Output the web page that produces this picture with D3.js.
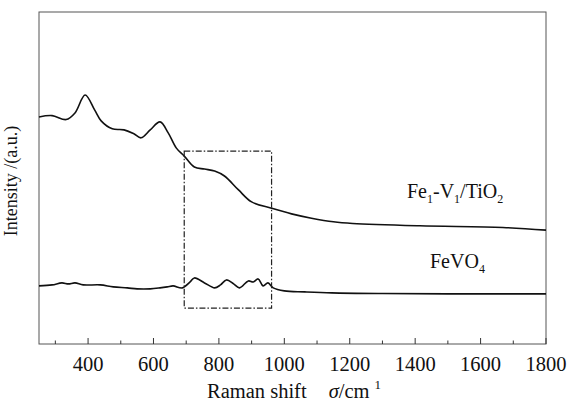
<!DOCTYPE html>
<html>
<head>
<meta charset="utf-8">
<script src="https://cdn.jsdelivr.net/npm/d3@7"></script>
<style>
  html, body { margin: 0; padding: 0; background: #fff; }
  svg { display: block; }
  text { font-family: "Liberation Serif", "DejaVu Serif", serif; fill: #111; }
</style>
</head>
<body>
<svg id="chart" width="568" height="403"></svg>
<script>
// ---- data (Raman shift in cm^-1, intensity in arbitrary units) ----
const shiftTiO2 = [250, 290, 333, 360, 391, 420, 440, 474, 510, 540, 562, 590, 620, 645, 670, 694, 725, 756, 787, 817, 860, 900, 961, 1022, 1083, 1150, 1209, 1414, 1668, 1800];
const intensityTiO2 = [68.4, 68.8, 67.6, 69.6, 75.0, 70.5, 67.2, 64.8, 64.5, 63.3, 62.1, 64.5, 66.9, 63.6, 59.0, 56.6, 53.3, 52.7, 52.1, 50.6, 46.4, 42.8, 40.9, 39.2, 37.9, 36.8, 36.3, 35.6, 35.1, 34.3];
const shiftFeVO4 = [250, 290, 320, 340, 360, 385, 437, 477, 520, 550, 590, 620, 642, 660, 688, 712, 725, 756, 787, 805, 823, 845, 863, 890, 905, 920, 935, 950, 966, 1000, 1062, 1145, 1300, 1500, 1800];
const intensityFeVO4 = [17.5, 17.8, 18.4, 18.1, 18.4, 17.8, 17.8, 17.2, 16.9, 16.6, 16.6, 16.9, 17.2, 17.5, 16.9, 18.7, 19.9, 18.4, 16.9, 17.8, 19.3, 18.1, 16.9, 19.0, 18.7, 19.6, 17.5, 18.4, 16.9, 16.0, 15.7, 15.4, 15.2, 15.1, 15.1];
const seriesNames = ["Fe1-V1/TiO2", "FeVO4"];
const xTicks = [400, 600, 800, 1000, 1200, 1400, 1600, 1800];
const xMinorTicks = [300, 500, 700, 900, 1100, 1300, 1500, 1700];
const boxRange = [694, 961];
const boxIntensity = [10.8, 58.1];

// ---- layout ----
const svg = d3.select("#chart");
const L = 39, R = 546, T = 12, B = 344;
const x = d3.scaleLinear().domain([250, 1800]).range([L, R]);
const y = d3.scaleLinear().domain([0, 100]).range([B, T]);

// frame
svg.append("rect").attr("x", L).attr("y", T).attr("width", R - L).attr("height", B - T)
  .attr("fill", "none").attr("stroke", "#555").attr("stroke-width", 1);

// bottom axis with inward ticks
const ax = svg.append("g").attr("transform", `translate(0,${B})`);
ax.selectAll("line.major").data(xTicks).join("line").attr("class", "major")
  .attr("x1", d => x(d)).attr("x2", d => x(d)).attr("y1", 0).attr("y2", -6)
  .attr("stroke", "#333").attr("stroke-width", 1);
ax.selectAll("line.minor").data(xMinorTicks).join("line").attr("class", "minor")
  .attr("x1", d => x(d)).attr("x2", d => x(d)).attr("y1", 0).attr("y2", -3.5)
  .attr("stroke", "#333").attr("stroke-width", 1);
ax.selectAll("text").data(xTicks).join("text")
  .attr("x", d => x(d)).attr("y", 27).attr("text-anchor", "middle")
  .attr("font-size", 20.5).text(d => d);

// axis titles
const xt = svg.append("text").attr("x", 207).attr("y", 398).attr("font-size", 20.5);
xt.append("tspan").text("Raman shift");
xt.append("tspan").attr("dx", 22).attr("font-style", "italic").text("σ");
xt.append("tspan").text("/cm");
xt.append("tspan").attr("dx", 5).attr("dy", -9).attr("font-size", 13).text("1");

svg.append("text").attr("transform", "translate(17,181) rotate(-90)")
  .attr("text-anchor", "middle").attr("font-size", 18).text("Intensity /(a.u.)");

// lines
const line = d3.line().x(d => x(d[0])).y(d => y(d[1])).curve(d3.curveCatmullRom.alpha(0.5));
const dataTiO2 = shiftTiO2.map((s, i) => [s, intensityTiO2[i]]);
const dataFeVO4 = shiftFeVO4.map((s, i) => [s, intensityFeVO4[i]]);
[dataTiO2, dataFeVO4].forEach(d => {
  svg.append("path").datum(d).attr("d", line)
    .attr("fill", "none").attr("stroke", "#111").attr("stroke-width", 1.6)
    .attr("stroke-linejoin", "round");
});

// dash-dot box
svg.append("rect")
  .attr("x", x(boxRange[0])).attr("y", y(boxIntensity[1]))
  .attr("width", x(boxRange[1]) - x(boxRange[0]))
  .attr("height", y(boxIntensity[0]) - y(boxIntensity[1]))
  .attr("fill", "none").attr("stroke", "#222").attr("stroke-width", 1.2)
  .attr("stroke-dasharray", "6,2,1.5,2");

// series labels
function label(parts, xp, yp) {
  const t = svg.append("text").attr("x", xp).attr("y", yp).attr("font-size", 20);
  parts.forEach(p => {
    if (p.sub) t.append("tspan").attr("dy", 5).attr("font-size", 12).text(p.t);
    else t.append("tspan").attr("dy", p.after ? -5 : 0).text(p.t);
  });
}
label([{t: "Fe"}, {t: "1", sub: true}, {t: "-V", after: true}, {t: "1", sub: true}, {t: "/TiO", after: true}, {t: "2", sub: true}], 407, 198);
label([{t: "FeVO"}, {t: "4", sub: true}], 430, 268);
</script>
</body>
</html>
